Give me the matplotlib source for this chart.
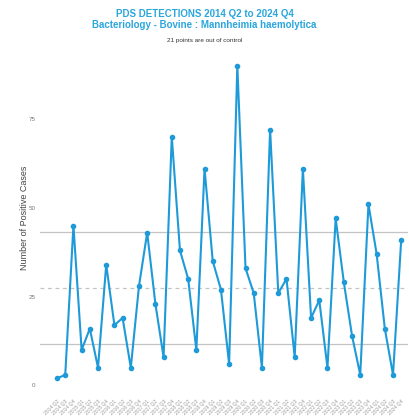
import matplotlib
matplotlib.use("Agg")
import matplotlib.pyplot as plt

plt.rcParams["font.family"] = ["Liberation Sans", "DejaVu Sans"]

quarters = [f"{y} Q{q}" for y in range(2014, 2025) for q in range(1, 5)][1:]
cases = [2, 3, 45, 10, 16, 5, 34, 17, 19, 5, 28, 43, 23, 8, 70, 38, 30, 10,
         61, 35, 27, 6, 90, 33, 26, 5, 72, 26, 30, 8, 61, 19, 24, 5, 47, 29,
         14, 3, 51, 37, 16, 3, 41]
ucl = 43.2
mean = 27.5
lcl = 11.8

blue = "#1e9ad8"
title_blue = "#2aa6dc"

fig = plt.figure(figsize=(4.09, 4.18), dpi=100)
ax = fig.add_axes([0.098, 0.065, 0.90, 0.795])

x = list(range(len(cases)))
ax.axhline(ucl, color="#c4c4c4", lw=0.9, zorder=1)
ax.axhline(lcl, color="#c4c4c4", lw=0.9, zorder=1)
ax.axhline(mean, color="#c4c4c4", lw=0.9, ls=(0, (3, 3)), zorder=1)
ax.plot(x, cases, color=blue, lw=1.5, marker="o", ms=3, zorder=3)

ax.set_xlim(-2.07, 42.85)
ax.set_ylim(-1.5, 92)
ax.set_yticks([0, 25, 50, 75])
ax.tick_params(axis="y", length=0, labelsize=4.5, labelcolor="#777777", pad=3.5)
ax.set_xticks(x)
ax.set_xticklabels(quarters, rotation=45, ha="right", rotation_mode="anchor",
                   fontsize=3.6, color="#999999")
ax.tick_params(axis="x", length=0, pad=6)
for s in ax.spines.values():
    s.set_visible(False)
ax.set_ylabel("Number of Positive Cases", fontsize=6.5, color="#444444")
ax.yaxis.set_label_coords(-0.029, 0.52)

fig.text(0.5, 0.966, "PDS DETECTIONS 2014 Q2 to 2024 Q4", ha="center", va="center",
         fontsize=7.0, fontweight="bold", color=title_blue)
fig.text(0.5, 0.940, "Bacteriology - Bovine : Mannheimia haemolytica", ha="center", va="center",
         fontsize=7.0, fontweight="bold", color=title_blue)
fig.text(0.5, 0.902, "21 points are out of control", ha="center", va="center",
         fontsize=4.6, color="#333333")

fig.savefig("out.png", dpi=100, facecolor="white")
